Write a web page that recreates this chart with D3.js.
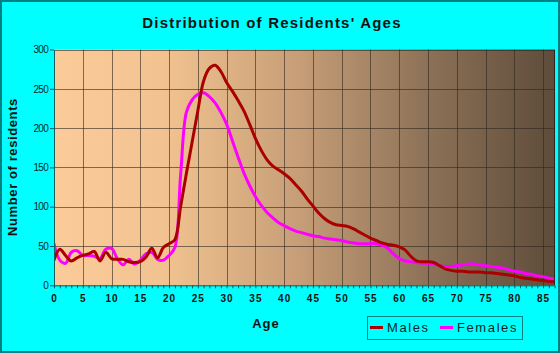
<!DOCTYPE html>
<html lang="en">
<head>
  <meta charset="UTF-8">
  <title>Distribution of Residents' Ages</title>
  <script src="https://d3js.org/d3.v7.min.js"></script>
  <style>
    body { margin: 0; padding: 0; background: #00ffff; }
    svg { display: block; font-family: Arial, "Liberation Sans", sans-serif; }
  </style>
</head>
<body>
  <svg id="chart" width="560" height="353"></svg>

  <script>
    // ages 0..87, one value per year
    const ages = d3.range(0, 88);

    const males = [
      32, 46, 38, 31, 35, 38, 40, 43, 31, 42,
      34, 33, 33, 30, 29, 30, 36, 47, 35, 48,
      53, 58, 100, 142, 182, 222, 260, 276, 280, 272,
      258, 247, 235, 222, 205, 187, 172, 160, 152, 147,
      142, 136, 128, 120, 110, 101, 92, 85, 80, 77,
      76, 75, 72, 68, 64, 60, 57, 54, 52, 51,
      49, 45, 37, 31, 30, 30, 29, 25, 21, 19,
      18, 18, 17, 17, 17, 16, 16, 15, 14, 13,
      12, 10, 9, 8, 7, 6, 5, 5
    ];

    const females = [
      53, 32, 28, 42, 44, 38, 38, 37, 34, 46,
      47, 34, 26, 33, 27, 32, 40, 42, 33, 32,
      38, 48, 140, 220, 236, 243, 245, 240, 232, 220,
      205, 184, 163, 143, 127, 113, 102, 93, 86, 80,
      76, 72, 69, 67, 65, 63, 62, 60, 59, 58,
      57, 55, 54, 53, 53, 53, 53, 51, 47, 40,
      34, 31, 30, 29, 28, 28, 27, 25, 24, 24,
      25, 26, 27, 27, 26, 25, 24, 23, 22, 20,
      18, 17, 15, 14, 12, 11, 9, 8
    ];

    const seriesNames = ["Males", "Females"];
    const seriesColors = ["#aa0000", "#ff00ff"];
    const xTicks = d3.range(0, 90, 5);
    const yTicks = [0, 50, 100, 150, 200, 250, 300];

    const svg = d3.select("#chart");
    const W = 560, H = 353;
    const m = { left: 54, right: 554, top: 49.5, bottom: 285.3 };

    // outer frame
    svg.append("rect")
      .attr("x", 1).attr("y", 1)
      .attr("width", W - 2).attr("height", H - 2)
      .attr("fill", "#00ffff")
      .attr("stroke", "#008080")
      .attr("stroke-width", 2);

    const defs = svg.append("defs");
    const grad = defs.append("linearGradient")
      .attr("id", "bg")
      .attr("x1", "0%").attr("x2", "100%")
      .attr("y1", "0%").attr("y2", "0%");
    [[0, "#fbcc99"], [0.22, "#f2c390"], [0.5, "#c49c76"], [0.75, "#8c7157"], [1, "#5e4c3a"]]
      .forEach(([o, c]) => grad.append("stop").attr("offset", o).attr("stop-color", c));

    defs.append("clipPath").attr("id", "clip")
      .append("rect")
      .attr("x", m.left).attr("y", m.top)
      .attr("width", m.right - m.left).attr("height", m.bottom - m.top);

    const x = d3.scaleLinear().domain([0, 86.9]).range([m.left, m.right]);
    const y = d3.scaleLinear().domain([0, 300]).range([m.bottom, m.top]);

    svg.append("rect")
      .attr("x", m.left).attr("y", m.top)
      .attr("width", m.right - m.left).attr("height", m.bottom - m.top)
      .attr("fill", "url(#bg)");

    // grid
    const grid = svg.append("g")
      .attr("stroke", "#2e261e")
      .attr("stroke-opacity", 0.6)
      .attr("stroke-width", 1);
    grid.selectAll(".vx")
      .data(xTicks.filter(d => d > 0))
      .enter().append("line")
      .attr("x1", d => Math.round(x(d)) + 0.5).attr("x2", d => Math.round(x(d)) + 0.5)
      .attr("y1", m.top).attr("y2", m.bottom);
    grid.selectAll(".hy")
      .data(yTicks.filter(d => d > 0))
      .enter().append("line")
      .attr("x1", m.left).attr("x2", m.right)
      .attr("y1", d => Math.round(y(d)) + 0.5).attr("y2", d => Math.round(y(d)) + 0.5);
    svg.append("line")
      .attr("x1", m.right + 0.5).attr("x2", m.right + 0.5)
      .attr("y1", m.top).attr("y2", m.bottom)
      .attr("stroke", "#2e261e");

    // lines
    const line = d3.line()
      .x((d, i) => x(ages[i]))
      .y(d => y(d))
      .curve(d3.curveCatmullRom.alpha(0.5));

    const plot = svg.append("g").attr("clip-path", "url(#clip)");
    [females, males].forEach((s, k) => {
      plot.append("path")
        .datum(s)
        .attr("fill", "none")
        .attr("stroke", seriesColors[1 - k])
        .attr("stroke-width", 3)
        .attr("stroke-linejoin", "round")
        .attr("d", line);
    });

    // axes
    const yAxis = d3.axisLeft(y).tickValues(yTicks).tickSize(4).tickSizeOuter(0);
    const gy = svg.append("g")
      .attr("transform", `translate(${m.left},0)`)
      .call(yAxis);
    gy.select(".domain").attr("stroke", "#006060");
    gy.selectAll(".tick line").attr("stroke", "#006060");
    gy.selectAll("text")
      .attr("fill", "#062a2a")
      .style("font-size", "10px")
      .style("letter-spacing", "-0.7px")
      .attr("x", -6);

    const xAxis = d3.axisBottom(x).tickValues(ages).tickSize(3).tickSizeOuter(0)
      .tickFormat(d => d % 5 === 0 ? d : "");
    const gx = svg.append("g")
      .attr("transform", `translate(0,${m.bottom})`)
      .call(xAxis);
    gx.select(".domain").attr("stroke", "#006060");
    gx.selectAll(".tick line").attr("stroke", "#006060");
    gx.selectAll("text")
      .attr("fill", "#111")
      .attr("y", 10)
      .style("font-size", "10px")
      .style("font-weight", "bold")
      .style("letter-spacing", "1px");

    // titles
    svg.append("text")
      .attr("x", 272).attr("y", 28)
      .attr("text-anchor", "middle")
      .style("font-size", "15px")
      .style("font-weight", "bold")
      .style("letter-spacing", "1.2px")
      .attr("fill", "#111")
      .text("Distribution of Residents' Ages");

    svg.append("text")
      .attr("transform", "translate(17,167) rotate(-90)")
      .attr("text-anchor", "middle")
      .style("font-size", "13px")
      .style("font-weight", "bold")
      .style("letter-spacing", "0.6px")
      .attr("fill", "#111")
      .text("Number of residents");

    svg.append("text")
      .attr("x", 266).attr("y", 328)
      .attr("text-anchor", "middle")
      .style("font-size", "13px")
      .style("font-weight", "bold")
      .style("letter-spacing", "1px")
      .attr("fill", "#111")
      .text("Age");

    // legend
    const lg = svg.append("g");
    lg.append("rect")
      .attr("x", 367.5).attr("y", 316.5)
      .attr("width", 155).attr("height", 23)
      .attr("fill", "none")
      .attr("stroke", "#008080");
    const legendX = [370, 440];
    seriesNames.forEach((name, i) => {
      lg.append("line")
        .attr("x1", legendX[i]).attr("x2", legendX[i] + 13)
        .attr("y1", 327.5).attr("y2", 327.5)
        .attr("stroke", seriesColors[i])
        .attr("stroke-width", 3);
      lg.append("text")
        .attr("x", legendX[i] + 17).attr("y", 332)
        .style("font-size", "13px")
        .style("letter-spacing", "1.6px")
        .attr("fill", "#0a2a2a")
        .text(name);
    });
  </script>
</body>
</html>
